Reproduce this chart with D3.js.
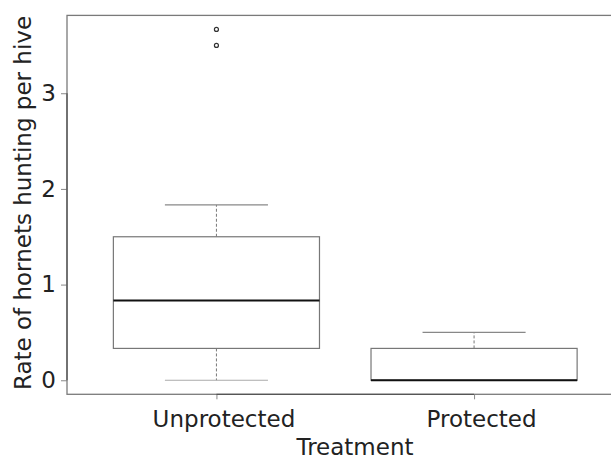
<!DOCTYPE html>
<html>
<head>
<meta charset="utf-8">
<script src="https://cdn.jsdelivr.net/npm/d3@7"></script>
<style>
  body { margin: 0; background: #fff; }
  text { font-family: "DejaVu Sans", sans-serif; }
</style>
</head>
<body>
<svg id="chart" width="611" height="456"></svg>
<script>
// Box plot stats per treatment
const categories = ['Unprotected', 'Protected'];
const whiskerLow = [0, 0];
const q1 = [0.333, 0];
const median = [0.833, 0];
const q3 = [1.5, 0.333];
const whiskerHigh = [1.833, 0.5];
const outliers = [[3.5, 3.667], []];
const yTicks = [0, 1, 2, 3];

const svg = d3.select('#chart');
const plotLeft = 67, plotRight = 623.5, plotTop = 15.4, plotBottom = 394.3;
const fontSize = '23px';

const x = d3.scalePoint()
  .domain(categories)
  .range([plotLeft, plotRight])
  .padding(0.58);

const yMax = d3.max(outliers.flat().concat(whiskerHigh));
const pad = (yMax - 0) * 0.04;
const y = d3.scaleLinear()
  .domain([0 - pad, yMax + pad])
  .range([plotBottom, plotTop]);

const step = x.step();
const boxW = step * 0.8;
const capW = step * 0.4;

const rows = categories.map((c, i) => ({
  cat: c, lo: whiskerLow[i], q1: q1[i], med: median[i], q3: q3[i], hi: whiskerHigh[i], out: outliers[i]
}));

// frame
svg.append('rect')
  .attr('x', plotLeft).attr('y', plotTop)
  .attr('width', plotRight - plotLeft).attr('height', plotBottom - plotTop)
  .attr('fill', 'none').attr('stroke', '#7a7a7a').attr('stroke-width', 1.3);

const g = svg.selectAll('g.box').data(rows).enter().append('g').attr('class', 'box');

// whiskers
g.append('line')
  .attr('x1', d => x(d.cat)).attr('x2', d => x(d.cat))
  .attr('y1', d => y(d.q3)).attr('y2', d => y(d.hi))
  .attr('stroke', '#777').attr('stroke-dasharray', '3,2');
g.append('line')
  .attr('x1', d => x(d.cat)).attr('x2', d => x(d.cat))
  .attr('y1', d => y(d.q1)).attr('y2', d => y(d.lo))
  .attr('stroke', '#777').attr('stroke-dasharray', '3,2');

// caps
g.append('line')
  .attr('x1', d => x(d.cat) - capW / 2).attr('x2', d => x(d.cat) + capW / 2)
  .attr('y1', d => y(d.hi)).attr('y2', d => y(d.hi))
  .attr('stroke', '#888').attr('stroke-width', 1.2);
g.append('line')
  .attr('x1', d => x(d.cat) - capW / 2).attr('x2', d => x(d.cat) + capW / 2)
  .attr('y1', d => y(d.lo)).attr('y2', d => y(d.lo))
  .attr('stroke', '#aaa').attr('stroke-width', 1.2);

// box
g.append('rect')
  .attr('x', d => x(d.cat) - boxW / 2)
  .attr('y', d => y(d.q3))
  .attr('width', boxW)
  .attr('height', d => y(d.q1) - y(d.q3))
  .attr('fill', '#fff').attr('stroke', '#777').attr('stroke-width', 1.2);

// median
g.append('line')
  .attr('x1', d => x(d.cat) - boxW / 2).attr('x2', d => x(d.cat) + boxW / 2)
  .attr('y1', d => y(d.med)).attr('y2', d => y(d.med))
  .attr('stroke', '#111').attr('stroke-width', 2);

// outliers
g.selectAll('circle')
  .data(d => d.out.map(v => ({ cat: d.cat, v })))
  .enter().append('circle')
  .attr('cx', d => x(d.cat)).attr('cy', d => y(d.v))
  .attr('r', 2).attr('fill', 'none').attr('stroke', '#333').attr('stroke-width', 1.2);

// axes
const yAxis = d3.axisLeft(y).tickValues(yTicks).tickSize(6).tickPadding(5).tickFormat(d3.format('d'));
const xAxis = d3.axisBottom(x).tickSize(5).tickPadding(11);

function styleAxis(ax) {
  ax.select('.domain').remove();
  ax.selectAll('.tick line').attr('stroke', '#888');
  ax.selectAll('.tick text').attr('fill', '#222').style('font-size', fontSize).style('font-family', 'DejaVu Sans');
}

svg.append('g')
  .attr('transform', 'translate(' + plotLeft + ',0)')
  .call(yAxis)
  .call(styleAxis);

svg.append('g')
  .attr('transform', 'translate(0,' + plotBottom + ')')
  .call(xAxis)
  .call(styleAxis)
  .selectAll('.tick text').attr('dx', 7);

// axis lines between first and last tick
svg.append('line')
  .attr('x1', x(categories[0])).attr('x2', x(categories[1]))
  .attr('y1', plotBottom).attr('y2', plotBottom)
  .attr('stroke', '#555').attr('stroke-width', 1.3);
svg.append('line')
  .attr('x1', plotLeft).attr('x2', plotLeft)
  .attr('y1', y(0)).attr('y2', y(3))
  .attr('stroke', '#555').attr('stroke-width', 1.3);

// axis titles
svg.append('text')
  .attr('x', 355).attr('y', 455)
  .attr('text-anchor', 'middle')
  .attr('fill', '#222').style('font-size', fontSize)
  .text('Treatment');

svg.append('text')
  .attr('transform', 'translate(31,203) rotate(-90)')
  .attr('text-anchor', 'middle')
  .attr('fill', '#222').style('font-size', fontSize)
  .text('Rate of hornets hunting per hive');
</script>
</body>
</html>
